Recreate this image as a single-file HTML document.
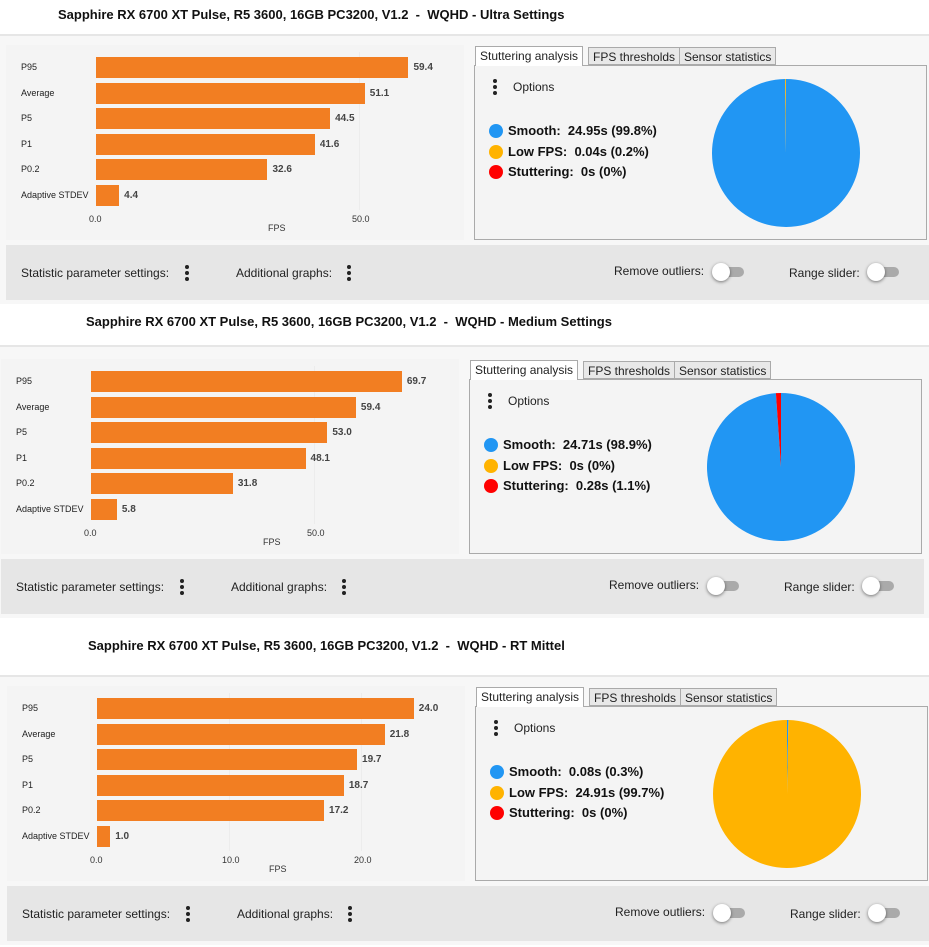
<!DOCTYPE html>
<html><head><meta charset="utf-8">
<style>
body{margin:0;width:929px;height:947px;overflow:hidden;background:#fff;font-family:"Liberation Sans",sans-serif;position:relative}
.a{position:absolute}
.title{font-weight:bold;font-size:13px;color:#111;white-space:pre}
.lbl{font-size:9px;color:#222;white-space:nowrap}
.val{font-size:10px;font-weight:bold;color:#444;white-space:nowrap}
.tick{font-size:9px;color:#333;white-space:nowrap}
.ctl{font-size:12px;color:#222;white-space:nowrap}
.tab{font-size:12px;color:#222;border:1px solid #aaa;background:#e8e8e8;height:18px;line-height:18px;padding:0 4px;box-sizing:border-box;white-space:nowrap}
.leg{font-size:13px;font-weight:bold;color:#111;white-space:pre}
.dot{width:14px;height:14px;border-radius:50%}
.dots{width:3px}
.dots i{display:block;width:4px;height:4px;border-radius:50%;background:#222;margin-bottom:2px}
.tog{width:30px;height:10px;border-radius:5px;background:#aaa}
.knob{width:18px;height:18px;border-radius:50%;background:#fff;box-shadow:0 1px 3px rgba(0,0,0,.5)}
</style></head><body>
<script>
const categories=["P95","Average","P5","P1","P0.2","Adaptive STDEV"];
const titles=["Sapphire RX 6700 XT Pulse, R5 3600, 16GB PC3200, V1.2  -  WQHD - Ultra Settings","Sapphire RX 6700 XT Pulse, R5 3600, 16GB PC3200, V1.2  -  WQHD - Medium Settings","Sapphire RX 6700 XT Pulse, R5 3600, 16GB PC3200, V1.2  -  WQHD - RT Mittel"];
const values1=[59.4,51.1,44.5,41.6,32.6,4.4];
const values2=[69.7,59.4,53.0,48.1,31.8,5.8];
const values3=[24.0,21.8,19.7,18.7,17.2,1.0];
const ticks1=[0,50];
const ticks2=[0,50];
const ticks3=[0,10,20];
const pieSmooth=[99.8,98.9,0.3];
const pieLow=[0.2,0,99.7];
const pieStutter=[0,1.1,0];
const legendText=[["24.95s (99.8%)","0.04s (0.2%)","0s (0%)"],["24.71s (98.9%)","0s (0%)","0.28s (1.1%)"],["0.08s (0.3%)","24.91s (99.7%)","0s (0%)"]];
</script>
<script>
function mk(tag,cls,x,y,name,inter,txt){const e=document.createElement(tag);e.className='a '+(cls||'');e.style.left=x+'px';e.style.top=y+'px';


if(txt!==undefined)e.textContent=txt;document.body.appendChild(e);return e;}
function box(x,y,w,h,bg,name,extra){const e=mk('div','',x,y,name,false);e.style.width=w+'px';e.style.height=h+'px';e.style.background=bg;if(extra)e.style.cssText+=extra;return e;}
function dots(x,y,name){const d=mk('div','dots',x,y,name,true);for(let i=0;i<3;i++)d.appendChild(document.createElement('i'));}
const cfg=[{ty:16,tx:58,dy:0,dx:0,vals:values1,ticks:ticks1,ppu:263/50,bgTop:34},
{ty:323,tx:86,dy:314,dx:-5,vals:values2,ticks:ticks2,ppu:223/50,bgTop:345},
{ty:647,tx:88,dy:641,dx:1,vals:values3,ticks:ticks3,ppu:13.2,bgTop:675}];
const colors=["#2196f3","#ffb300","#ff0000"];
const names=["Smooth","Low FPS","Stuttering"];
cfg.forEach((c,p)=>{
 const dy=c.dy,dx=c.dx;
 box(0,c.bgTop,929,(300+dy)-c.bgTop+2,'#f7f7f7','panel-background',"border-top:2px solid #e6e6e6");
 mk('div','title',c.tx,c.ty-9,'chart-title',false,titles[p]);
 box(6+dx,45+dy,458,195,'#f4f4f4','bar-chart-area');
 const x0=96+dx;
 c.ticks.forEach(v=>{const x=x0+v*c.ppu;
  if(v>0)box(x,52+dy,1,158,'#ececec','gridline');
  mk('div','tick',x-7,214+dy,'x-tick-label',false,v.toFixed(1));});
 mk('div','tick',x0+172,223+dy,'x-axis-title',false,'FPS');
 categories.forEach((cat,i)=>{const y=57+dy+i*25.5;
  mk('div','lbl',21+dx,y+5,'category-label',false,cat);
  const w=c.vals[i]*c.ppu;
  box(x0,y,w,21,'#f27e22','bar-'+cat.toLowerCase().replace(/[ .]/g,'-'));
  mk('div','val',x0+w+5,y+5,'bar-value',false,c.vals[i].toFixed(1));});
 box(6+dx,245+dy,923,55,'#e6e6e6','controls-bar');
 mk('div','ctl',21+dx,266+dy,'statistic-settings-label',false,'Statistic parameter settings:');
 dots(185+dx,265+dy,'statistic-settings-menu');
 mk('div','ctl',236+dx,266+dy,'additional-graphs-label',false,'Additional graphs:');
 dots(347+dx,265+dy,'additional-graphs-menu');
 mk('div','ctl',614+dx,264+dy,'remove-outliers-label',false,'Remove outliers:');
 mk('div','tog',714+dx,267+dy,'remove-outliers-toggle',true);mk('div','knob',712+dx,263+dy,'toggle-knob',true);
 mk('div','ctl',789+dx,266+dy,'range-slider-label',false,'Range slider:');
 mk('div','tog',869+dx,267+dy,'range-slider-toggle',true);mk('div','knob',867+dx,263+dy,'toggle-knob',true);
 box(474+dx,65+dy,453,175,'#f4f4f4','stuttering-panel',"border:1px solid #aaa;box-sizing:border-box");
 const tb=mk('div','tab',475+dx,46+dy,'tab-stuttering-analysis',true,'Stuttering analysis');tb.style.background='#fff';tb.style.borderBottom='none';tb.style.height='20px';
 mk('div','tab',588+dx,47+dy,'tab-fps-thresholds',true,'FPS thresholds');
 mk('div','tab',679+dx,47+dy,'tab-sensor-statistics',true,'Sensor statistics');
 dots(493+dx,79+dy,'options-menu');
 mk('div','ctl',513+dx,80+dy,'options-label',false,'Options');
 const vals=[pieSmooth[p],pieLow[p],pieStutter[p]];
 names.forEach((n,i)=>{const y=124+dy+i*20.5;
  const d=mk('div','dot',489+dx,y,'legend-dot-'+n.toLowerCase().replace(' ','-'),false);d.style.background=colors[i];
  mk('div','leg',508+dx,y-1,'legend-entry',false,n+':  '+legendText[p][i]);});
 const cx=786+dx,cy=153+dy,r=74;
 const ns='http://www.w3.org/2000/svg';
 const svg=document.createElementNS(ns,'svg');svg.setAttribute('width',929);svg.setAttribute('height',947);
 svg.style.cssText='position:absolute;left:0;top:0';
 
 
 let a=0;const tot=vals.reduce((s,v)=>s+v,0);
 vals.forEach((v,i)=>{if(v<=0)return;const f=v/tot;
  const el=document.createElementNS(ns,f>=0.9999?'circle':'path');
  if(f>=0.9999){el.setAttribute('cx',cx);el.setAttribute('cy',cy);el.setAttribute('r',r);}
  else{const a0=a*2*Math.PI,a1=(a+f)*2*Math.PI;
   const x1=cx+r*Math.sin(a0),y1=cy-r*Math.cos(a0),x2=cx+r*Math.sin(a1),y2=cy-r*Math.cos(a1);
   el.setAttribute('d',`M${cx},${cy}L${x1},${y1}A${r},${r} 0 ${f>0.5?1:0} 1 ${x2},${y2}Z`);}
  el.setAttribute('fill',colors[i]);
  
  
  svg.appendChild(el);a+=f;});
 document.body.appendChild(svg);
});
</script>
</body></html>
